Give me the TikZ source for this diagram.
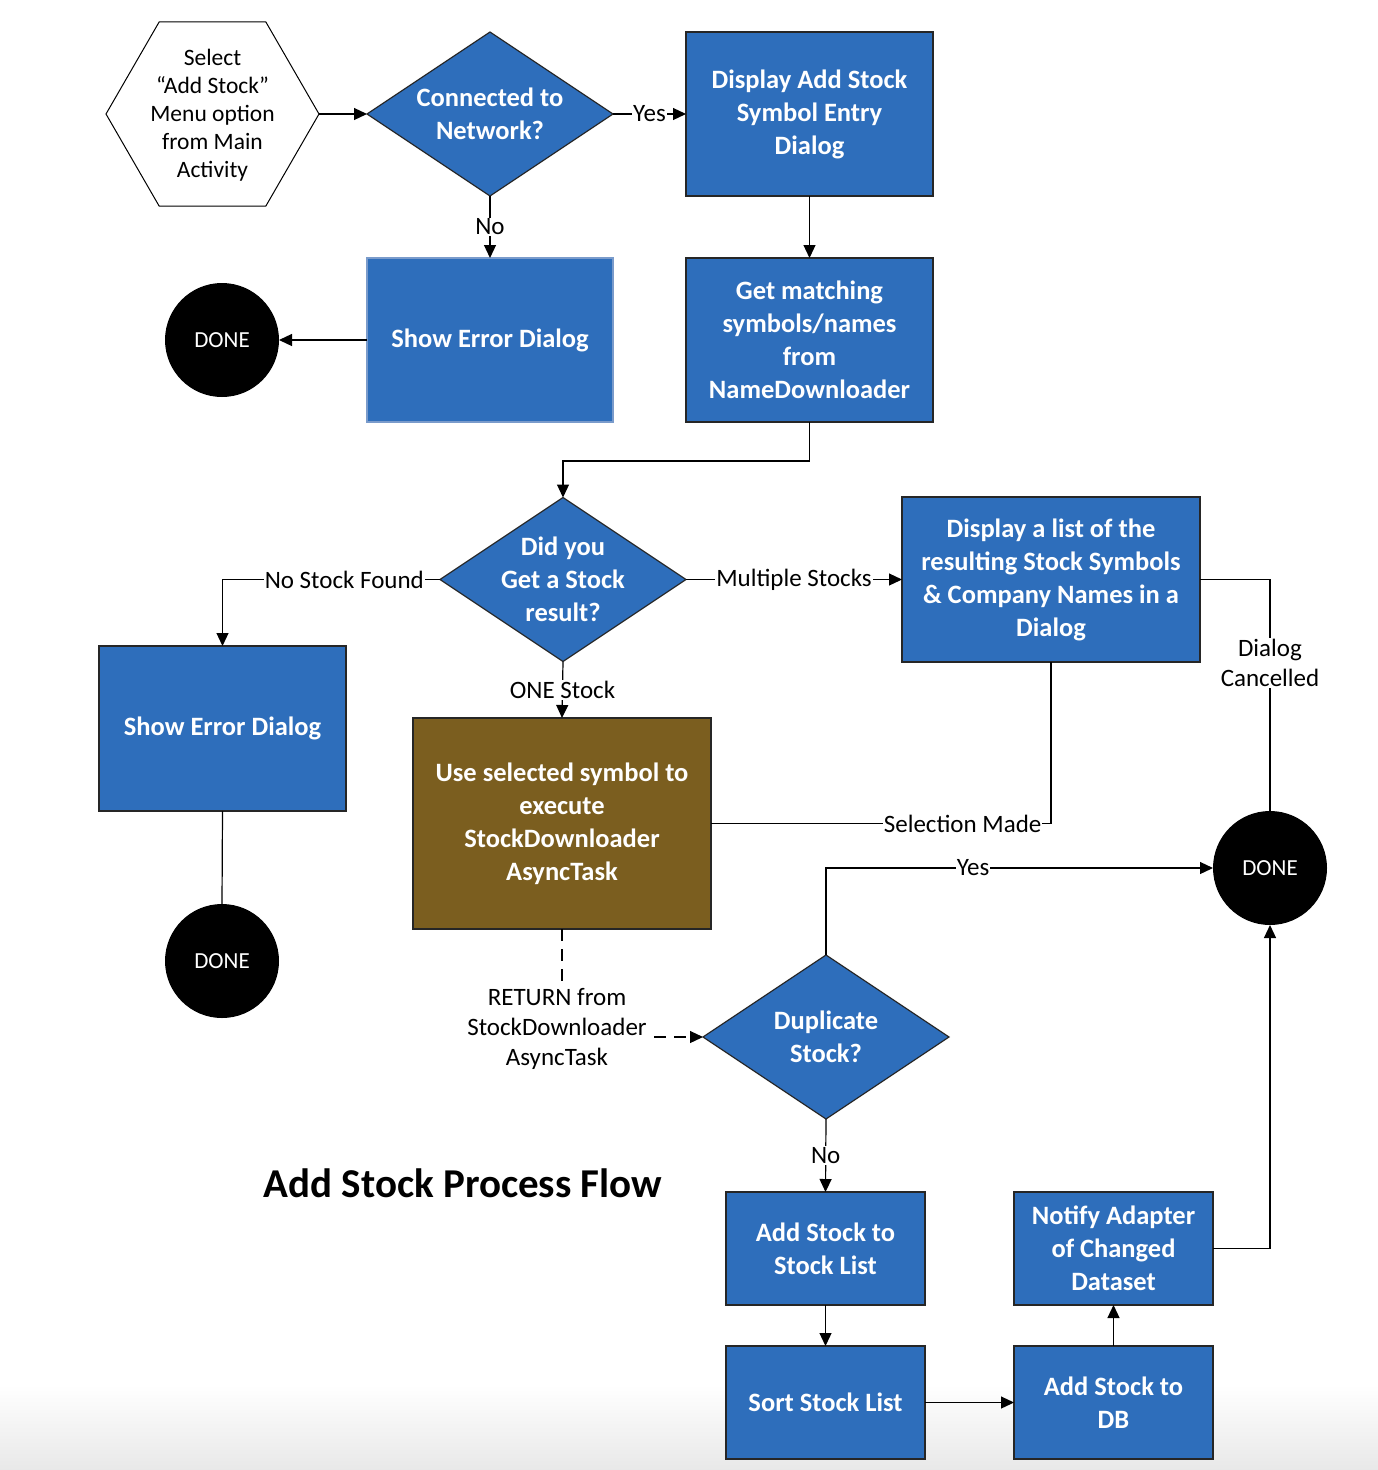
\documentclass[tikz,border=0pt]{standalone}
\usepackage{fontspec}
\setmainfont{Carlito}
\usetikzlibrary{shapes.geometric,arrows.meta,calc}
\definecolor{boxblue}{HTML}{2E6EBB}
\definecolor{olivebox}{HTML}{7B5E1F}
\definecolor{lightedge}{HTML}{7A9BCB}
\tikzset{
  proc/.style={rectangle,fill=boxblue,draw=black!85,line width=1.2pt,inner sep=0pt,outer sep=0pt,
    text=white,align=center,font=\bfseries\fontsize{26.5}{33}\selectfont},
  dec/.style={diamond,fill=boxblue,draw=black!85,line width=1.2pt,inner sep=0pt,outer sep=0pt,
    minimum width=246pt,minimum height=164pt},
  dectext/.style={text=white,align=center,font=\bfseries\fontsize{26.5}{33}\selectfont},
  donec/.style={circle,fill=black,text=white,minimum size=114pt,inner sep=0pt,outer sep=0pt,
    font=\fontsize{23}{26}\selectfont},
  conn/.style={line width=1.2pt,draw=black},
  arr/.style={conn,-{Triangle[length=13pt,width=12pt]}},
  elabel/.style={fill=white,inner sep=1pt,align=center,font=\fontsize{25}{30}\selectfont}
}
\begin{document}
\begin{tikzpicture}[x=1pt,y=-1pt]
\useasboundingbox (0,0) rectangle (1378,1470);
\fill[white] (0,0) rectangle (1378,1470);
\shade[top color=white,bottom color=black!9] (0,1385) rectangle (1378,1470);

% start hexagon
\node[regular polygon,regular polygon sides=6,minimum size=213pt,draw=black,line width=1pt,
  inner sep=0pt,outer sep=0pt] (hex) at (212.5,114) {};
\node[align=center,font=\fontsize{23.5}{28}\selectfont] at (212.5,115) {Select\\“Add Stock”\\Menu option\\from Main\\Activity};

% decisions
\node[dec] (d1) at (490,114) {};
\node[dectext] at (d1) {Connected to\\Network?};
\node[dec] (d2) at (563,579.5) {};
\node[dectext] at (d2) {Did you\\Get a Stock\\result?};
\node[dec] (d3) at (826,1037) {};
\node[dectext] at (d3) {Duplicate\\Stock?};

% process boxes
\node[proc,minimum width=247pt,minimum height=164pt] (disp) at (809.5,114) {Display Add Stock\\Symbol Entry\\Dialog};
\node[proc,draw=lightedge,minimum width=246pt,minimum height=164pt] (err1) at (490,340) {Show Error Dialog};
\node[proc,minimum width=247pt,minimum height=164pt] (getm) at (809.5,340) {Get matching\\symbols/names\\from\\NameDownloader};
\node[proc,minimum width=247pt,minimum height=165pt] (err2) at (222.5,728.5) {Show Error Dialog};
\node[proc,minimum width=298pt,minimum height=165pt] (list) at (1051,579.5) {Display a list of the\\resulting Stock Symbols\\\& Company Names in a\\Dialog};
\node[proc,fill=olivebox,minimum width=298pt,minimum height=211pt] (olive) at (562,823.5) {Use selected symbol to\\execute\\StockDownloader\\AsyncTask};
\node[proc,minimum width=199pt,minimum height=113pt] (add1) at (825.5,1248.5) {Add Stock to\\Stock List};
\node[proc,minimum width=199pt,minimum height=113pt] (sort) at (825.5,1402.5) {Sort Stock List};
\node[proc,minimum width=199pt,minimum height=113pt] (adddb) at (1113.5,1402.5) {Add Stock to\\DB};
\node[proc,minimum width=199pt,minimum height=113pt] (notify) at (1113.5,1248.5) {Notify Adapter\\of Changed\\Dataset};

% terminals
\node[donec] (done1) at (222,340) {DONE};
\node[donec] (done2) at (222,961) {DONE};
\node[donec] (done3) at (1270,868) {DONE};

% title
\node[font=\bfseries\fontsize{41}{48}\selectfont] (title) at (463,1183) {Add Stock Process Flow};

% connectors
\draw[arr] (hex.east) -- (d1.west);
\draw[arr] (d1.east) -- node[elabel]{Yes} (disp.west);
\draw[arr] (d1.south) -- node[elabel]{No} (err1.north);
\draw[arr] (err1.west) -- (done1.east);
\draw[arr] (disp.south) -- (getm.north);
\draw[arr] (getm.south) -- ++(0,39) -| (d2.north);
\draw[arr] (d2.west) -| node[elabel,pos=0.22]{No Stock Found} (err2.north);
\draw[arr] (d2.east) -- node[elabel]{Multiple Stocks} (list.west);
\draw[arr] (d2.south) -- node[elabel]{ONE Stock} (olive.north);
\draw[conn] (list.south) |- node[elabel,pos=0.63]{Selection Made} (olive.east);
\draw[conn] (list.east) -| node[elabel,pos=0.68]{Dialog\\Cancelled} (done3.north);
\draw[conn] (err2.south) -- (done2.north);
\draw[arr,dash pattern=on 12pt off 8pt] (olive.south) |- node[elabel,pos=0.5,xshift=-5pt,yshift=8pt]{RETURN from\\StockDownloader\\AsyncTask} (d3.west);
\draw[arr] (d3.north) |- node[elabel,pos=0.69]{Yes} (done3.west);
\draw[arr] (d3.south) -- node[elabel]{No} (add1.north);
\draw[arr] (add1.south) -- (sort.north);
\draw[arr] (sort.east) -- (adddb.west);
\draw[arr] (adddb.north) -- (notify.south);
\draw[arr] (notify.east) -| (done3.south);
\end{tikzpicture}
\end{document}
